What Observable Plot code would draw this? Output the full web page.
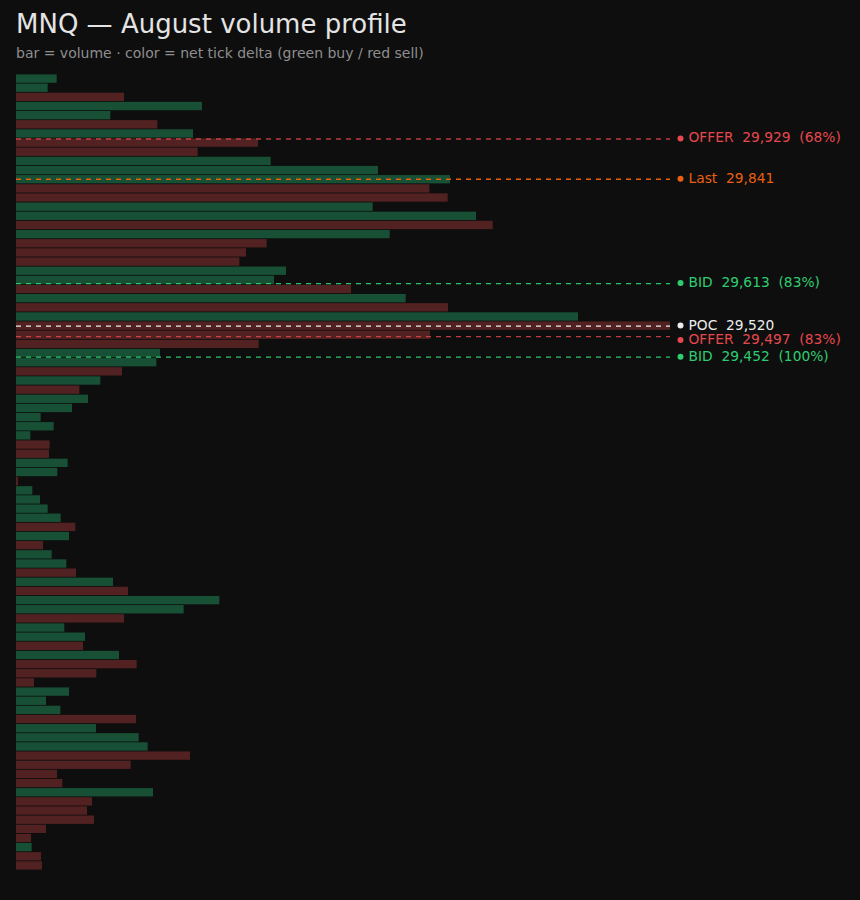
<!DOCTYPE html>
<html>
<head>
<meta charset="utf-8">
<script src="https://cdn.jsdelivr.net/npm/d3@7"></script>
<script src="https://cdn.jsdelivr.net/npm/@observablehq/plot@0.6"></script>
<style>
  html, body { margin: 0; padding: 0; background: #0e0e0e; }
  body { width: 860px; height: 900px; overflow: hidden; font-family: "DejaVu Sans", sans-serif; }
  #header { position: relative; height: 66px; }
  #title { position: absolute; left: 16px; top: 9px; font-size: 26px; line-height: 30px; color: #e4e4e4; white-space: nowrap; }
  #subtitle { position: absolute; left: 16px; top: 44px; font-size: 14px; line-height: 18px; color: #8e8e8e; white-space: nowrap; }
  #chart svg { display: block; }
</style>
</head>
<body>
<div id="header">
  <div id="title">MNQ — August volume profile</div>
  <div id="subtitle">bar = volume · color = net tick delta (green buy / red sell)</div>
</div>
<div id="chart"></div>
<script>
// Price levels (20-point bins, bin centers), top to bottom
const prices = [
  30060,30040,30020,30000,29980,29960,29940,29920,29900,29880,
  29860,29840,29820,29800,29780,29760,29740,29720,29700,29680,
  29660,29640,29620,29600,29580,29560,29540,29520,29500,29480,
  29460,29440,29420,29400,29380,29360,29340,29320,29300,29280,
  29260,29240,29220,29200,29180,29160,29140,29120,29100,29080,
  29060,29040,29020,29000,28980,28960,28940,28920,28900,28880,
  28860,28840,28820,28800,28780,28760,28740,28720,28700,28680,
  28660,28640,28620,28600,28580,28560,28540,28520,28500,28480,
  28460,28440,28420,28400,28380,28360,28340
];
// Volume per level
const volumes = [
  122,95,324,558,283,424,531,726,545,764,
  1086,1302,1240,1295,1070,1380,1430,1121,752,690,
  670,810,774,1005,1169,1296,1686,1962,1242,728,
  432,421,318,253,190,216,168,74,113,43,
  101,99,155,124,6,49,72,95,134,178,
  159,81,107,151,180,291,336,610,503,324,
  145,207,201,309,362,241,54,159,90,133,
  360,240,368,395,522,344,123,139,411,228,
  213,234,90,45,47,75,78
];
// Net tick delta side: B = buy (green), S = sell (red)
const side = [
  "B","B","S","B","B","S","B","S","S","B",
  "B","B","S","S","B","B","S","B","S","S",
  "S","B","B","S","B","S","B","S","S","S",
  "B","B","S","B","S","B","B","B","B","B",
  "S","S","B","B","S","B","B","B","B","S",
  "B","S","B","B","S","B","S","B","B","S",
  "B","B","S","B","S","S","S","B","B","B",
  "S","B","B","B","S","S","S","S","B","S",
  "S","S","S","S","B","S","S"
];

// Reference levels
const levelKinds  = ["OFFER", "Last", "BID", "POC", "OFFER", "BID"];
const levelPrices = [29929, 29841, 29613, 29520, 29497, 29452];
const levelPcts   = [68, null, 83, null, 83, 100];

const binHalf = 10;
const levelColors = {OFFER: "#e5484d", Last: "#e8600f", BID: "#2ecc71", POC: "#ececec"};
const lineOpacity = {OFFER: 0.8, Last: 1, BID: 0.95, POC: 1};

const rows = prices.map((p, i) => ({price: p, vol: volumes[i], side: side[i]}));

const W = 860, H = 834;
const mTop = 8, mBottom = 30, mLeft = 16, mRight = 190;
const yDomain = [d3.min(prices) - binHalf, d3.max(prices) + binHalf];
const yPix = d3.scaleLinear(yDomain, [H - mBottom, mTop]);
const maxVol = d3.max(volumes);

// label de-collision (top to bottom)
const levels = levelKinds.map((k, i) => ({
  kind: k, price: levelPrices[i], pct: levelPcts[i],
  label: k + "\u00a0\u00a0" + d3.format(",")(levelPrices[i]) + (levelPcts[i] != null ? "\u00a0\u00a0(" + levelPcts[i] + "%)" : "")
}));
const sorted = levels.slice().sort((a, b) => b.price - a.price);
let prev = -Infinity;
for (const l of sorted) {
  let py = yPix(l.price);
  if (py < prev + 14.5) py = prev + 14.5;
  l.labelY = yPix.invert(py);
  prev = py;
}

const plot = Plot.plot({
  width: W,
  height: H,
  marginTop: mTop,
  marginBottom: mBottom,
  marginLeft: mLeft,
  marginRight: mRight,
  style: {background: "transparent", fontFamily: "DejaVu Sans, sans-serif", color: "#ddd"},
  x: {domain: [0, maxVol], axis: null},
  y: {domain: yDomain, axis: null},
  color: {domain: ["B", "S"], range: ["#175035", "#522121"]},
  marks: [
    Plot.rectX(rows, {
      x: "vol",
      y1: d => d.price - binHalf,
      y2: d => d.price + binHalf,
      fill: "side",
      insetTop: 0.4,
      insetBottom: 0.4
    }),
    Plot.ruleY(levels, {
      y: "price",
      stroke: d => levelColors[d.kind],
      strokeOpacity: d => lineOpacity[d.kind],
      strokeWidth: 1.3,
      strokeDasharray: "5,5"
    }),
    Plot.dot(levels, {
      x: () => maxVol,
      y: "labelY",
      dx: 10,
      dy: -0.5,
      r: 3,
      fill: d => levelColors[d.kind],
      stroke: null
    }),
    Plot.text(levels, {
      x: () => maxVol,
      y: "labelY",
      dx: 18,
      dy: -1,
      text: "label",
      textAnchor: "start",
      fill: d => levelColors[d.kind],
      fontSize: 13.8
    })
  ]
});
document.getElementById("chart").appendChild(plot);
</script>
</body>
</html>
